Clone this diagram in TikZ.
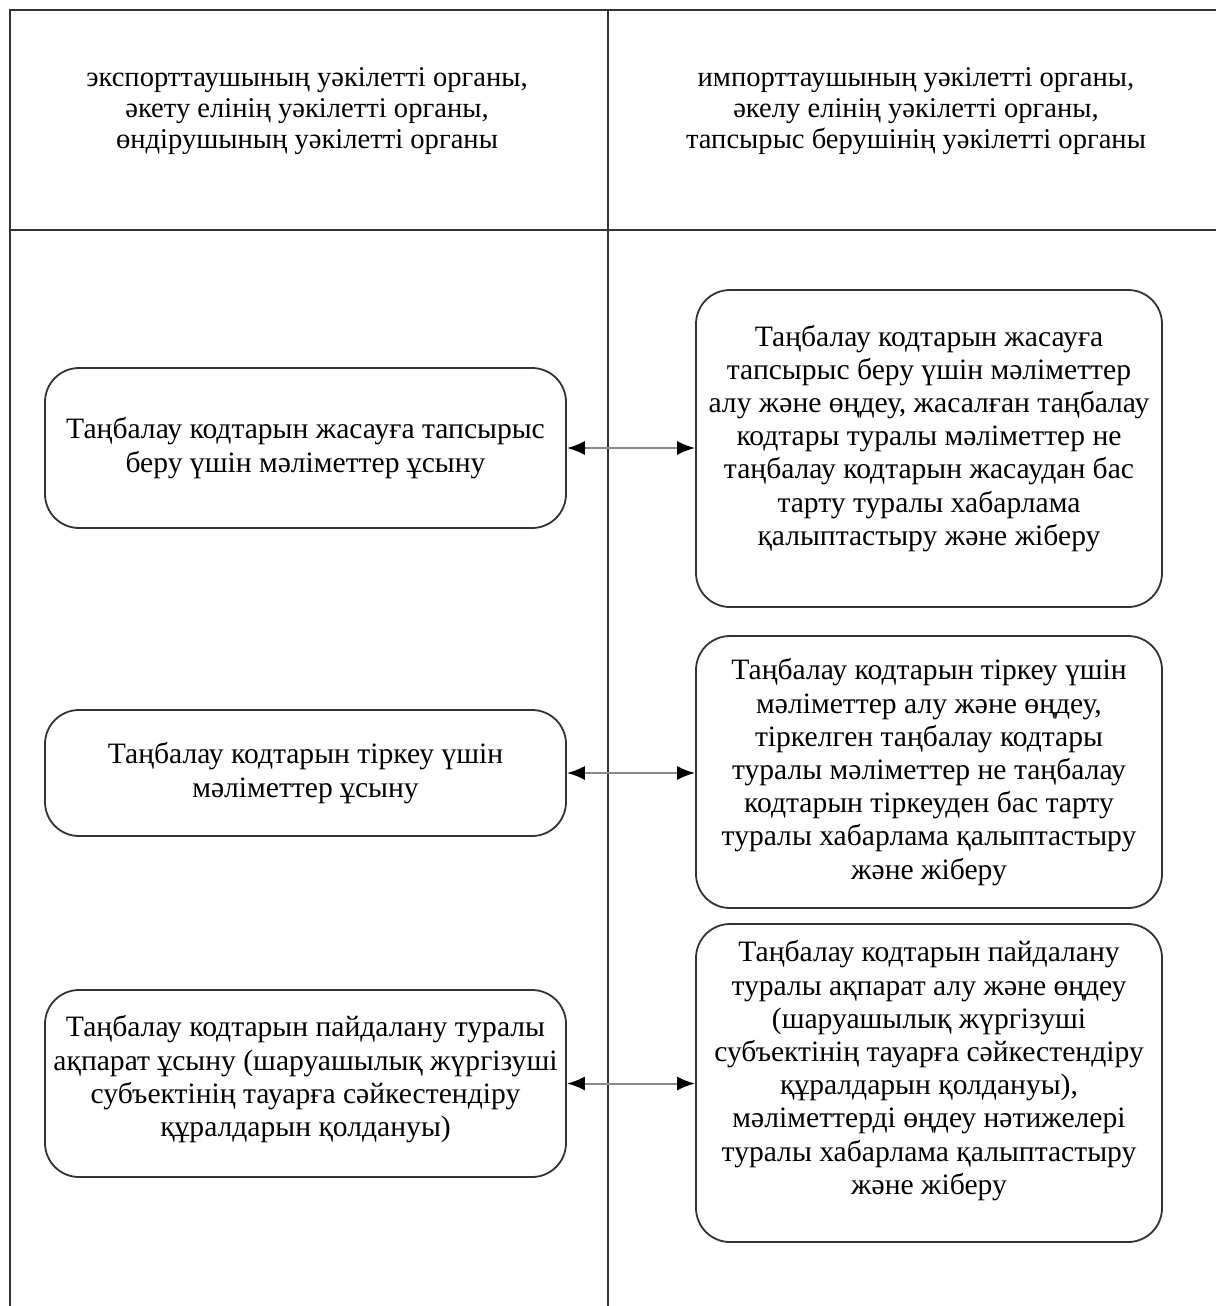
\documentclass[tikz,border=0pt]{standalone}
\usepackage{fontspec}
\setmainfont{Liberation Serif}
\usetikzlibrary{arrows.meta}
\definecolor{ln}{HTML}{333333}
\definecolor{cn}{HTML}{8A8A8A}
\newcommand\lowstrut[1]{\rule[-#1]{0pt}{#1}}
\begin{document}
\begin{tikzpicture}[x=0.5pt,y=-0.5pt,
  frame/.style={draw=ln,line width=1pt},
  hdr/.style={align=center,font=\fontsize{14.3}{15.5}\selectfont,text=black},
  stepbox/.style={draw=ln,line width=0.9pt,rounded corners=17pt,align=center,
    font=\fontsize{14.8}{16.6}\selectfont,inner sep=0pt},
  lbox/.style={stepbox,minimum width=260.5pt},
  rbox/.style={stepbox,minimum width=233pt},
  link/.style={draw=cn,line width=1pt,{Latex[length=9pt,width=7pt,color=black]}-{Latex[length=9pt,width=7pt,color=black]}}]
\useasboundingbox (0,0) rectangle (1216,1306);
\fill[white] (0,0) rectangle (1216,1306);
% frame
\coordinate (tl) at (10,10);
\coordinate (tr) at (1216,10);
\coordinate (bl) at (10,1306);
\coordinate (tm) at (608,10);
\coordinate (bm) at (608,1306);
\coordinate (hl) at (10,230);
\coordinate (hr) at (1216,230);
\draw[frame] (bl) -- (tl) -- (tr);
\draw[frame] (tm) -- (bm);
\draw[frame] (hl) -- (hr);
% headers
\node[hdr] (h1) at (307,111) {экспорттаушының уәкілетті органы,\\әкету елінің уәкілетті органы,\\өндірушының уәкілетті органы};
\node[hdr] (h2) at (916,111) {импорттаушының уәкілетті органы,\\әкелу елінің уәкілетті органы,\\тапсырыс берушінің уәкілетті органы};
% left boxes
\node[lbox,minimum height=80pt] (l1) at (305.5,448) {Таңбалау кодтарын жасауға тапсырыс\\беру үшін мәліметтер ұсыну};
\node[lbox,minimum height=63pt] (l2) at (305.5,773) {Таңбалау кодтарын тіркеу үшін\\мәліметтер ұсыну};
\node[lbox,minimum height=93.5pt] (l3) at (305.5,1083.5) {Таңбалау кодтарын пайдалану туралы\\ақпарат ұсыну (шаруашылық жүргізуші\\субъектінің тауарға сәйкестендіру\\құралдарын қолдануы)\lowstrut{7.5pt}};
% right boxes
\node[rbox,minimum height=158.5pt] (r1) at (929,448.5) {Таңбалау кодтарын жасауға\\тапсырыс беру үшін мәліметтер\\алу және өңдеу, жасалған таңбалау\\кодтары туралы мәліметтер не\\таңбалау кодтарын жасаудан бас\\тарту туралы хабарлама\\қалыптастыру және жіберу\lowstrut{13.5pt}};
\node[rbox,minimum height=136pt] (r2) at (929,772) {Таңбалау кодтарын тіркеу үшін\\мәліметтер алу және өңдеу,\\тіркелген таңбалау кодтары\\туралы мәліметтер не таңбалау\\кодтарын тіркеуден бас тарту\\туралы хабарлама қалыптастыру\\және жіберу};
\node[rbox,minimum height=159pt] (r3) at (929,1083) {Таңбалау кодтарын пайдалану\\туралы ақпарат алу және өңдеу\\(шаруашылық жүргізуші\\субъектінің тауарға сәйкестендіру\\құралдарын қолдануы),\\мәліметтерді өңдеу нәтижелері\\туралы хабарлама қалыптастыру\\және жіберу\lowstrut{15.5pt}};
% connectors
\draw[link] (l1.east) -- (r1.west |- l1.east);
\draw[link] (l2.east) -- (r2.west |- l2.east);
\draw[link] (l3.east) -- (r3.west |- l3.east);
\end{tikzpicture}
\end{document}
